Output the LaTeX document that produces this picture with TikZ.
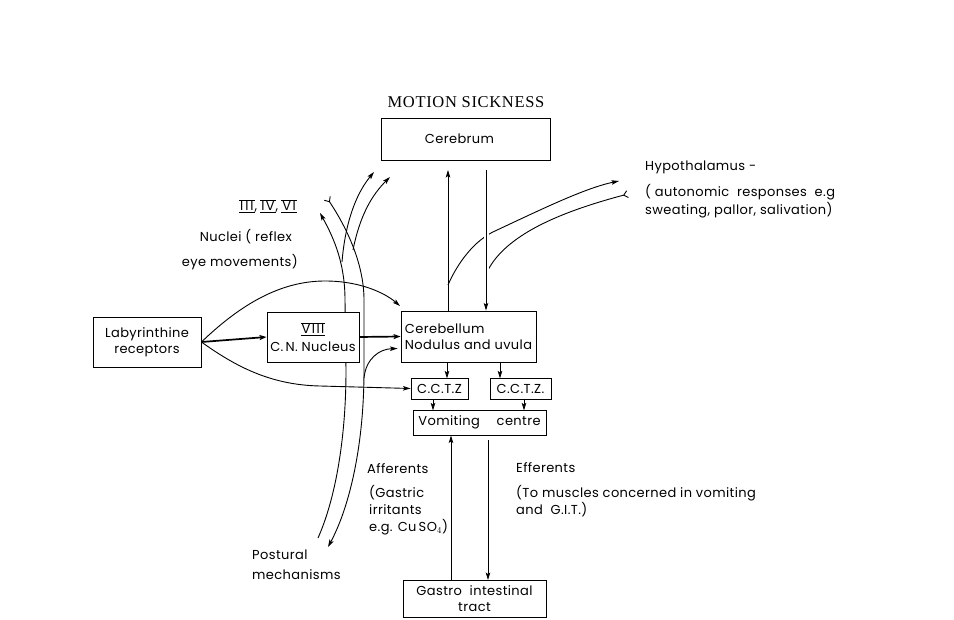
\documentclass[tikz,border=0pt]{standalone}
\usepackage{fontspec}
\setmainfont{Liberation Serif}
\newfontfamily\lbl[LetterSpace=3]{Poppins}
\newfontfamily\rmn{Poppins}
\usetikzlibrary{arrows.meta,calc}
\pgfdeclarelayer{bg}
\pgfsetlayers{bg,main}
\newcommand{\rn}[1]{\mbox{$\overline{\underline{\mbox{\rmn\fontsize{13}{15}\selectfont\kern1pt #1\kern1pt}}}$}}
\tikzset{Tl/.tip={Straight Barb[reversed,length=4pt,width=7pt]},
         Hd/.tip={Stealth[length=7.5pt,width=4.5pt,inset=1.5pt]}}
\begin{document}
\begin{tikzpicture}[x=1pt,y=-1pt,
  box/.style={draw, line width=0.9pt, fill=white, inner sep=0pt, align=center,
    font=\lbl\fontsize{13}{16}\selectfont},
  txt/.style={inner sep=0pt, align=left, font=\lbl\fontsize{13}{17}\selectfont},
  arr/.style={line width=0.9pt, -Hd},
  bigarr/.style={line width=1.7pt, -{Stealth[length=7pt,width=5pt,inset=1.5pt]}},
  fib/.style={line width=0.9pt},
  gap/.style={preaction={draw=white, line width=5pt}}]
\useasboundingbox (0,0) rectangle (954,620);

% title
\node[font=\fontsize{16.5}{19}\selectfont\addfontfeature{LetterSpace=4}] (title) at (466,102) {MOTION SICKNESS};

% boxes
\node[box, minimum width=169pt, minimum height=42pt] (cer) at (465.5,139) {Cerebrum\kern12pt};
\node[box, minimum width=108pt, minimum height=50pt] (lab) at (147,342) {Labyrinthine\\receptors};
\node[box, minimum width=92pt, minimum height=50pt] (viii) at (313,337) {\rn{V\kern1.5pt I\kern1.5pt I\kern1.5pt I}\\[2pt]C.\,N. Nucleus};
\node[box, minimum width=135pt, minimum height=51pt, align=left] (cbl) at (468.5,336.5) {Cerebellum\\Nodulus and uvula};
\node[box, minimum width=57pt, minimum height=21pt] (cc1) at (439.5,388.5) {C.C.T.Z};
\node[box, minimum width=61pt, minimum height=21pt] (cc2) at (520.5,388.5) {C.C.T.Z.};
\node[box, minimum width=133pt, minimum height=25pt] (vom) at (479.5,422.5) {Vomiting\quad\ centre};
\node[box, minimum width=143pt, minimum height=37pt, font=\lbl\fontsize{13}{16}\selectfont] (git) at (474.5,599) {Gastro\ \ intestinal\\tract};

% labels
\node[txt, anchor=east] (nums) at (297,206) {\rn{I\kern2pt I\kern2pt I},\kern3pt\rn{I\kern1.5pt V},\kern3pt\rn{V\kern1.5pt I}};
\node[txt, anchor=east, align=right, font=\lbl\fontsize{13}{25}\selectfont] (nuc) at (298,249.5) {Nuclei ( reflex\kern6pt\\eye movements)};
\node[txt, anchor=west] (hyp) at (645,167) {Hypothalamus -};
\node[txt, anchor=west, font=\lbl\fontsize{13}{18}\selectfont] (auto) at (645,201) {( autonomic\ \ responses\ \ e.g\\sweating, pallor, salivation)};
\node[txt, anchor=west] (aff) at (367,469) {Afferents};
\node[txt, anchor=west] (gas) at (369,510) {(Gastric\\irritants\\e.g. Cu\,SO$_4$)};
\node[txt, anchor=west] (eff) at (516,468) {Efferents};
\node[txt, anchor=west] (musc) at (516,501.5) {(To muscles concerned in vomiting\\and\ \ G.I.T.)};
\node[txt, anchor=west, font=\lbl\fontsize{13}{20}\selectfont] (post) at (252,565) {Postural\\mechanisms};

% named free ends
\coordinate (upc) at (448,170);
\coordinate (dnc) at (486,170);
\coordinate (cblin) at (400,306);
\coordinate (hypA) at (619,181);
\coordinate (hypB) at (628,194);
\coordinate (eyeA) at (320,213);
\coordinate (postA) at (328,547);
\coordinate (postB) at (318,538);
\coordinate (tailR) at (327,198);
\coordinate (cerA) at (374,172);
\coordinate (cerB) at (390,177);
\coordinate (gu) at (451,0);
\coordinate (gd) at (488,440);

\begin{pgfonlayer}{bg}
% ascending / descending fibres
\draw[arr] (postB) .. controls (335,500) and (346,440) .. (346,370) -- (345,300)
   .. controls (345,265) and (335,240) .. (eyeA);
\draw[fib, Tl-Hd] (tailR) .. controls (345,225) and (364,262) .. (364,300)
   -- (364,370) .. controls (364,450) and (348,510) .. (postA);
\draw[arr] (342,262) .. controls (345,225) and (355,195) .. (cerA);
\draw[arr] (353,250) .. controls (360,215) and (372,195) .. (cerB);
\draw[arr] (364,378) .. controls (366,358) and (380,349) .. ($(cbl.west)+(-3,12)$);
% hypothalamus
\draw[arr] (448,285) .. controls (458,262) and (475,240) .. (495,231)
   .. controls (540,210) and (585,188) .. (hypA);
\draw[fib, -Tl] (487,272) .. controls (505,235) and (560,212) .. (hypB);
\end{pgfonlayer}

% cerebrum <-> cerebellum
\draw[arr] (cbl.north -| upc) -- (upc);
\draw[arr, gap] (dnc) -- (cbl.north -| dnc);

% labyrinth
\draw[bigarr] (lab.east) -- (viii.west);
\draw[bigarr] (viii.east) -- (cbl.west);
\draw[arr] (lab.east) .. controls (240,305) and (280,281) .. (325,281)
   .. controls (360,281) and (385,293) .. (cblin);
\draw[arr] (lab.east) .. controls (235,366) and (270,385) .. (320,386) -- (cc1.west);

% cerebellum -> CTZ -> vomiting centre
\draw[arr] (cbl.south -| cc1.north) ++(7.5,0) -- ++(0,16);
\draw[arr] (cbl.south -| cc2.north) ++(-20.5,0) -- ++(0,16);
\draw[arr] (cc1.south) ++(-6.5,0) -- ++(0,11);
\draw[arr] (cc2.south) ++(3.5,0) -- ++(0,11);

% vomiting centre <-> GIT
\draw[arr] (git.north -| gu) -- (vom.south -| gu);
\draw[arr] (gd) -- (git.north -| gd);
\end{tikzpicture}
\end{document}
